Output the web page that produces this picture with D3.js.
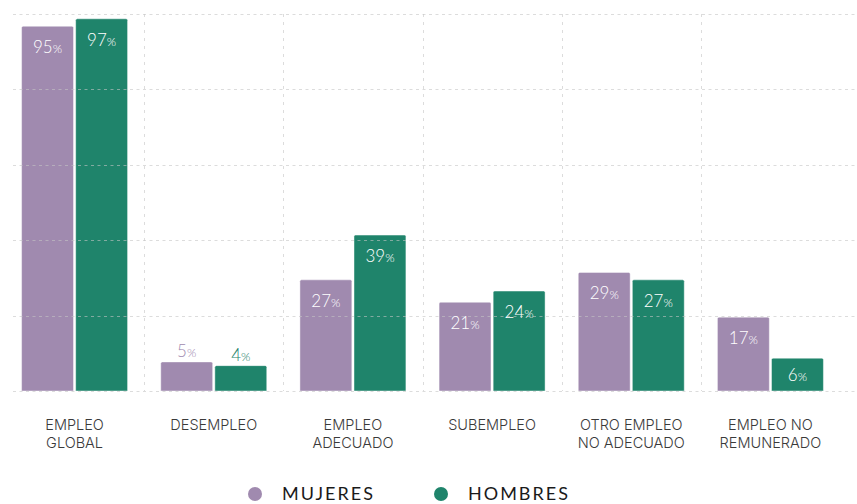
<!DOCTYPE html>
<html>
<head>
<meta charset="utf-8">
<script src="https://cdn.jsdelivr.net/npm/d3@7"></script>
<style>
  body { margin: 0; background: #fff; }
  svg { display: block; }
</style>
</head>
<body>
<div id="chart"></div>
<script>
// data
var categories = [["EMPLEO", "GLOBAL"], ["DESEMPLEO"], ["EMPLEO", "ADECUADO"], ["SUBEMPLEO"], ["OTRO EMPLEO", "NO ADECUADO"], ["EMPLEO NO", "REMUNERADO"]];
var series = ["MUJERES", "HOMBRES"];
var mujeres = [95, 5, 27, 21, 29, 17];
var hombres = [97, 4, 39, 24, 27, 6];
var colors = ["#a08aaf", "#1f846b"];

var width = 857, height = 504;
var base = 391;

var svg = d3.select("#chart").append("svg")
  .attr("width", width)
  .attr("height", height);

var x = d3.scaleBand()
  .domain(d3.range(categories.length))
  .range([5, 840]);

var xs = d3.scaleBand()
  .domain(series)
  .range([-53, 53])
  .paddingInner(0.04);

var y = d3.scaleLinear()
  .domain([-2.8, 100])
  .range([base, 7.6]);

// grid rows are just 5 equal steps of the plot
var gy = d3.scaleLinear().domain([0, 5]).range([base, 14]);

var rows = [];
for (var i = 0; i < categories.length; i++) {
  rows.push({i: i, s: "MUJERES", v: mujeres[i]});
  rows.push({i: i, s: "HOMBRES", v: hombres[i]});
}

var col = d3.scaleOrdinal().domain(series).range(colors);

//bars
var bars = svg.append("g");
bars.selectAll("path").data(rows).enter().append("path")
  .attr("d", function(d) {
    var x0 = x(d.i) + x.bandwidth() / 2 + xs(d.s);
    var w = xs.bandwidth();
    var t = y(d.v), r = 1.5;
    return "M" + x0 + "," + base + "V" + (t + r) + "Q" + x0 + "," + t + " " + (x0 + r) + "," + t +
      "H" + (x0 + w - r) + "Q" + (x0 + w) + "," + t + " " + (x0 + w) + "," + (t + r) + "V" + base + "Z";
  })
  .attr("fill", function(d) { return col(d.s); })
  .attr("stroke", "rgba(255,255,255,0.45)")
  .attr("stroke-width", 1);

// grid on top, faint
var grid = svg.append("g")
  .attr("stroke", "#c4c4c4")
  .attr("stroke-opacity", 0.6)
  .attr("stroke-width", 1);

grid.selectAll("line.h").data(d3.range(6)).enter().append("line")
  .attr("class", "h")
  .attr("x1", 13).attr("x2", width)
  .attr("y1", function(d) { return Math.round(gy(d)) + 0.5; })
  .attr("y2", function(d) { return Math.round(gy(d)) + 0.5; })
  .attr("stroke-dasharray", "3,3.5");

grid.selectAll("line.v").data(d3.range(1, categories.length)).enter().append("line")
  .attr("class", "v")
  .attr("x1", function(d) { return Math.round(x(d)) + 0.5; })
  .attr("x2", function(d) { return Math.round(x(d)) + 0.5; })
  .attr("y1", 14).attr("y2", base)
  .attr("stroke-dasharray", "3,5");

// value labels
var labels = svg.append("g")
  .attr("font-family", "Lato, sans-serif")
  .attr("font-weight", 300)
  .attr("text-anchor", "middle");

rows.forEach(function(d) {
  var cx = x(d.i) + x.bandwidth() / 2 + xs(d.s) + xs.bandwidth() / 2;
  var t = y(d.v);
  var h = base - t;
  var inside = h > 30;
  var ty = inside ? Math.min(t + 27, (t + base) / 2 + 6) : t - 5;
  var txt = labels.append("text")
    .attr("x", cx)
    .attr("y", ty)
    .attr("fill", inside ? "#fff" : col(d.s));
  txt.append("tspan").attr("font-size", 17).text(d.v);
  txt.append("tspan").attr("font-size", 12).text("%");
});

// category labels
var cats = svg.append("g")
  .attr("font-family", "Inter, sans-serif")
  .attr("font-weight", 300)
  .attr("font-size", 14.5)
  .attr("fill", "#3a3a3a")
  .attr("text-anchor", "middle");

categories.forEach(function(lines, i) {
  var t = cats.append("text")
    .attr("x", x(i) + x.bandwidth() / 2)
    .attr("y", 430);
  lines.forEach(function(l, k) {
    t.append("tspan")
      .attr("x", x(i) + x.bandwidth() / 2)
      .attr("dy", k == 0 ? 0 : 18)
      .text(l);
  });
});

// legend
var leg = svg.append("g")
  .attr("font-family", "Lato, sans-serif")
  .attr("font-size", 18)
  .attr("fill", "#1a1a1a");

var legX = [255, 441];
series.forEach(function(s, k) {
  leg.append("circle")
    .attr("cx", legX[k]).attr("cy", 494).attr("r", 7)
    .attr("fill", colors[k]);
  leg.append("text")
    .attr("x", legX[k] + 27).attr("y", 500)
    .attr("letter-spacing", 2)
    .text(s);
});
</script>
</body>
</html>
